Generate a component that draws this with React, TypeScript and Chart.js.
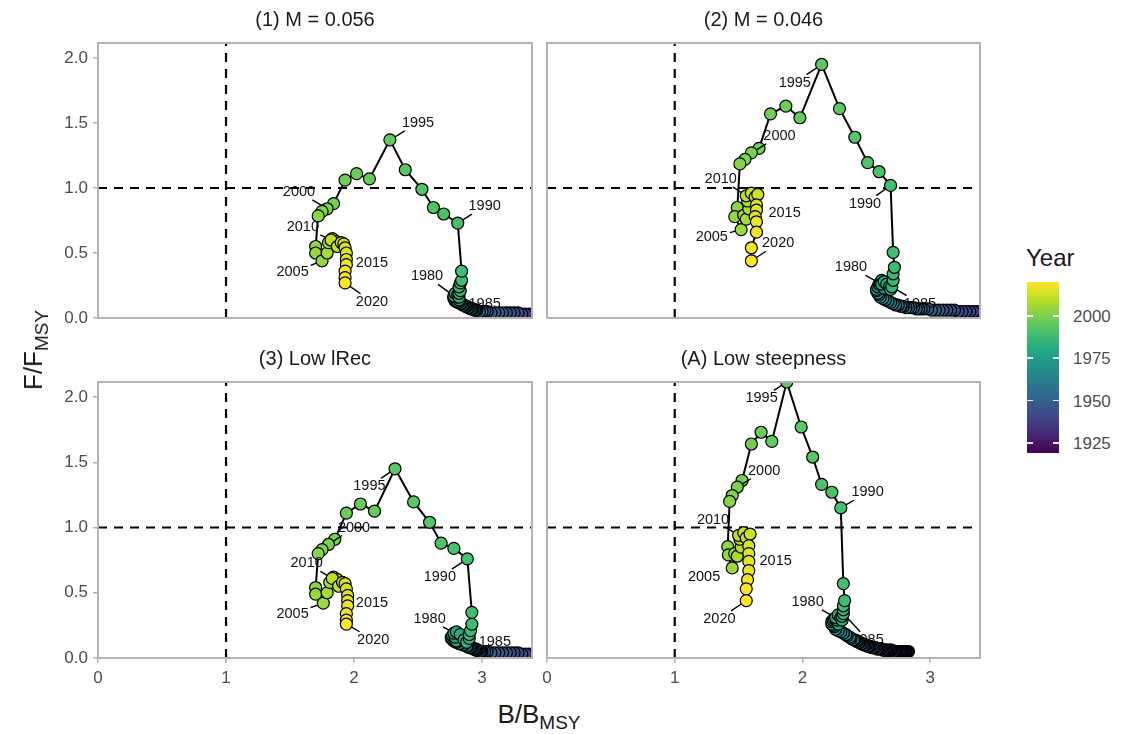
import React, { useEffect, useRef } from 'react';
import { Chart, registerables } from 'chart.js';

Chart.register(...registerables);

const FONT = '"Liberation Sans", Arial, Helvetica, sans-serif';

// ---- data ----
const YEAR_FIRST = 1919;
const YEAR_LAST = 2020;
const LEGEND_TICKS = [1925, 1950, 1975, 2000];
const LABEL_YEARS = [1980, 1985, 1990, 1995, 2000, 2005, 2010, 2015, 2020];
const PANEL_TITLES = ['(1) M = 0.056', '(2) M = 0.046', '(3) Low lRec', '(A) Low steepness'];
const X_MAX = 3.39;
const Y_MAX = 2.115;
const REF_B = 1;
const REF_F = 1;

// (1) M = 0.056
const P1_B = [
  3.80, 3.78, 3.76, 3.74, 3.72, 3.70, 3.67, 3.65, 3.62, 3.60,
  3.58, 3.56, 3.54, 3.52, 3.50, 3.48, 3.46, 3.44, 3.42, 3.40,
  3.37, 3.34, 3.31, 3.28, 3.25, 3.22, 3.19, 3.16, 3.13, 3.10,
  3.07, 3.04, 3.02, 3.00, 2.98, 2.96, 2.95, 2.94, 2.93, 2.92,
  2.91, 2.90, 2.89, 2.88, 2.87, 2.86, 2.85, 2.84, 2.83, 2.82,
  2.81, 2.80, 2.79, 2.79, 2.78, 2.78, 2.79, 2.80, 2.81, 2.82,
  2.80, 2.78, 2.79, 2.81, 2.82, 2.82, 2.83, 2.82, 2.83, 2.84,
  2.84, 2.81, 2.70, 2.62, 2.53, 2.40, 2.28, 2.12, 2.02, 1.93,
  1.84, 1.79, 1.75, 1.72, 1.70, 1.70, 1.75, 1.79, 1.80, 1.83,
  1.86, 1.82, 1.87, 1.90, 1.92, 1.93, 1.94, 1.94, 1.94, 1.93,
  1.93, 1.93,
];
const P1_F = [
  0.01, 0.01, 0.01, 0.02, 0.02, 0.02, 0.02, 0.02, 0.02, 0.02,
  0.03, 0.03, 0.03, 0.03, 0.03, 0.03, 0.03, 0.03, 0.03, 0.03,
  0.03, 0.03, 0.03, 0.04, 0.04, 0.04, 0.04, 0.04, 0.04, 0.04,
  0.04, 0.05, 0.05, 0.05, 0.05, 0.06, 0.06, 0.06, 0.07, 0.07,
  0.07, 0.08, 0.08, 0.09, 0.09, 0.10, 0.10, 0.11, 0.11, 0.12,
  0.12, 0.13, 0.13, 0.14, 0.15, 0.16, 0.17, 0.15, 0.13, 0.14,
  0.16, 0.17, 0.19, 0.18, 0.16, 0.19, 0.21, 0.24, 0.27, 0.29,
  0.36, 0.73, 0.80, 0.85, 0.99, 1.14, 1.37, 1.07, 1.11, 1.06,
  0.88, 0.84, 0.82, 0.785, 0.55, 0.50, 0.44, 0.50, 0.58, 0.61,
  0.59, 0.60, 0.55, 0.58, 0.57, 0.54, 0.50, 0.45, 0.41, 0.36,
  0.31, 0.27,
];
const P1_LAB_B = [2.57, 3.02, 3.02, 2.50, 1.57, 1.52, 1.60, 2.14, 2.14];
const P1_LAB_F = [0.32, 0.11, 0.86, 1.50, 0.97, 0.35, 0.70, 0.42, 0.125];

// (2) M = 0.046
const P2_B = [
  3.75, 3.73, 3.71, 3.69, 3.67, 3.65, 3.62, 3.60, 3.58, 3.56,
  3.54, 3.52, 3.50, 3.48, 3.46, 3.44, 3.42, 3.40, 3.37, 3.34,
  3.31, 3.28, 3.25, 3.22, 3.19, 3.16, 3.13, 3.10, 3.07, 3.04,
  3.01, 2.98, 2.95, 2.93, 2.91, 2.89, 2.87, 2.85, 2.83, 2.81,
  2.79, 2.77, 2.75, 2.73, 2.71, 2.69, 2.67, 2.65, 2.63, 2.61,
  2.60, 2.59, 2.58, 2.58, 2.59, 2.60, 2.61, 2.62, 2.63, 2.65,
  2.64, 2.62, 2.64, 2.66, 2.68, 2.69, 2.70, 2.71, 2.71, 2.72,
  2.71, 2.69, 2.60, 2.51, 2.41, 2.29, 2.15, 1.98, 1.87, 1.75,
  1.66, 1.60, 1.55, 1.51, 1.49, 1.47, 1.52, 1.54, 1.56, 1.58,
  1.57, 1.56, 1.60, 1.63, 1.65, 1.64, 1.64, 1.63, 1.64, 1.64,
  1.60, 1.60,
];
const P2_F = [
  0.03, 0.03, 0.03, 0.03, 0.04, 0.04, 0.04, 0.04, 0.04, 0.04,
  0.04, 0.04, 0.04, 0.04, 0.05, 0.05, 0.05, 0.05, 0.05, 0.05,
  0.05, 0.05, 0.05, 0.05, 0.06, 0.06, 0.06, 0.06, 0.06, 0.06,
  0.06, 0.07, 0.07, 0.07, 0.07, 0.07, 0.08, 0.08, 0.08, 0.08,
  0.09, 0.09, 0.10, 0.10, 0.11, 0.12, 0.13, 0.14, 0.15, 0.16,
  0.18, 0.19, 0.21, 0.22, 0.24, 0.26, 0.27, 0.29, 0.27, 0.25,
  0.23, 0.26, 0.28, 0.26, 0.24, 0.22, 0.24, 0.29, 0.34, 0.39,
  0.505, 1.02, 1.125, 1.195, 1.39, 1.61, 1.95, 1.54, 1.63, 1.57,
  1.305, 1.27, 1.22, 1.185, 0.85, 0.78, 0.68, 0.79, 0.76, 0.84,
  0.90, 0.94, 0.96, 0.93, 0.95, 0.87, 0.83, 0.78, 0.74, 0.66,
  0.54, 0.44,
];
const P2_LAB_B = [2.38, 2.92, 2.49, 1.94, 1.82, 1.29, 1.36, 1.86, 1.81];
const P2_LAB_F = [0.39, 0.11, 0.88, 1.81, 1.40, 0.62, 1.07, 0.805, 0.575];

// (3) Low lRec
const P3_B = [
  3.80, 3.78, 3.76, 3.74, 3.72, 3.70, 3.67, 3.65, 3.62, 3.60,
  3.58, 3.56, 3.54, 3.52, 3.50, 3.48, 3.46, 3.44, 3.42, 3.40,
  3.37, 3.34, 3.31, 3.28, 3.25, 3.22, 3.19, 3.16, 3.13, 3.10,
  3.07, 3.04, 3.02, 3.00, 2.99, 2.98, 2.97, 2.96, 2.95, 2.95,
  2.94, 2.93, 2.92, 2.91, 2.90, 2.89, 2.88, 2.86, 2.85, 2.83,
  2.82, 2.80, 2.79, 2.78, 2.77, 2.76, 2.76, 2.77, 2.79, 2.80,
  2.79, 2.78, 2.80, 2.83, 2.86, 2.88, 2.90, 2.90, 2.91, 2.92,
  2.92, 2.885, 2.78, 2.68, 2.59, 2.465, 2.32, 2.16, 2.05, 1.94,
  1.85, 1.80, 1.75, 1.72, 1.70, 1.70, 1.76, 1.79, 1.81, 1.84,
  1.87, 1.83, 1.88, 1.91, 1.93, 1.94, 1.95, 1.95, 1.95, 1.94,
  1.94, 1.94,
];
const P3_F = [
  0.01, 0.01, 0.02, 0.02, 0.02, 0.02, 0.02, 0.02, 0.02, 0.02,
  0.03, 0.03, 0.03, 0.03, 0.03, 0.03, 0.03, 0.03, 0.03, 0.03,
  0.03, 0.03, 0.03, 0.04, 0.04, 0.04, 0.04, 0.04, 0.04, 0.04,
  0.04, 0.05, 0.05, 0.05, 0.05, 0.05, 0.06, 0.06, 0.06, 0.07,
  0.07, 0.07, 0.08, 0.08, 0.08, 0.09, 0.09, 0.10, 0.10, 0.11,
  0.11, 0.12, 0.13, 0.13, 0.14, 0.15, 0.16, 0.17, 0.15, 0.13,
  0.16, 0.19, 0.20, 0.18, 0.14, 0.12, 0.15, 0.18, 0.21, 0.26,
  0.35, 0.76, 0.84, 0.88, 1.04, 1.196, 1.45, 1.125, 1.18, 1.11,
  0.91, 0.87, 0.83, 0.80, 0.54, 0.49, 0.42, 0.50, 0.58, 0.62,
  0.60, 0.61, 0.55, 0.58, 0.57, 0.53, 0.48, 0.44, 0.40, 0.34,
  0.29, 0.26,
];
const P3_LAB_B = [2.59, 3.10, 2.67, 2.12, 2.00, 1.52, 1.63, 2.14, 2.15];
const P3_LAB_F = [0.30, 0.12, 0.62, 1.315, 1.00, 0.34, 0.725, 0.42, 0.14];

// (A) Low steepness
const P4_B = [
  2.83, 2.82, 2.81, 2.80, 2.79, 2.78, 2.77, 2.76, 2.75, 2.74,
  2.73, 2.72, 2.71, 2.70, 2.69, 2.68, 2.67, 2.66, 2.65, 2.64,
  2.63, 2.62, 2.61, 2.60, 2.59, 2.58, 2.57, 2.56, 2.55, 2.54,
  2.53, 2.52, 2.51, 2.50, 2.49, 2.48, 2.47, 2.46, 2.45, 2.44,
  2.43, 2.42, 2.41, 2.40, 2.38, 2.37, 2.35, 2.34, 2.32, 2.30,
  2.28, 2.26, 2.25, 2.24, 2.23, 2.23, 2.24, 2.25, 2.27, 2.28,
  2.27, 2.26, 2.28, 2.30, 2.31, 2.31, 2.32, 2.32, 2.32, 2.33,
  2.32, 2.30, 2.23, 2.15, 2.08, 1.99, 1.877, 1.76, 1.676, 1.60,
  1.527, 1.49, 1.45, 1.43, 1.415, 1.42, 1.45, 1.47, 1.49, 1.52,
  1.51, 1.50, 1.54, 1.56, 1.59, 1.58, 1.58, 1.58, 1.58, 1.57,
  1.56, 1.56,
];
const P4_F = [
  0.05, 0.05, 0.05, 0.05, 0.05, 0.05, 0.05, 0.05, 0.05, 0.05,
  0.05, 0.05, 0.05, 0.06, 0.06, 0.06, 0.06, 0.06, 0.06, 0.06,
  0.06, 0.07, 0.07, 0.07, 0.07, 0.07, 0.08, 0.08, 0.08, 0.08,
  0.09, 0.09, 0.09, 0.10, 0.10, 0.10, 0.11, 0.11, 0.12, 0.12,
  0.13, 0.13, 0.14, 0.14, 0.15, 0.16, 0.17, 0.18, 0.19, 0.20,
  0.21, 0.22, 0.24, 0.25, 0.26, 0.28, 0.29, 0.30, 0.28, 0.26,
  0.29, 0.31, 0.33, 0.31, 0.29, 0.32, 0.34, 0.37, 0.40, 0.44,
  0.57, 1.15, 1.27, 1.33, 1.54, 1.77, 2.115, 1.66, 1.73, 1.64,
  1.36, 1.31, 1.245, 1.20, 0.854, 0.79, 0.69, 0.80, 0.78, 0.85,
  0.91, 0.94, 0.96, 0.92, 0.95, 0.86, 0.80, 0.74, 0.67, 0.60,
  0.53, 0.44,
];
const P4_LAB_B = [2.04, 2.51, 2.51, 1.68, 1.70, 1.23, 1.30, 1.79, 1.35];
const P4_LAB_F = [0.43, 0.14, 1.27, 1.99, 1.435, 0.62, 1.06, 0.74, 0.30];

// ---- styling ----
const VIRIDIS = ['#440154', '#482475', '#414487', '#355F8D', '#2A788E', '#21918C', '#22A884', '#44BF70', '#7AD151', '#BDDF26', '#FDE725'];

function hexToRgb(h: string) {
  const n = parseInt(h.slice(1), 16);
  return [(n >> 16) & 255, (n >> 8) & 255, n & 255];
}
function viridis(t: number) {
  const c = Math.max(0, Math.min(1, t)) * (VIRIDIS.length - 1);
  const i = Math.min(Math.floor(c), VIRIDIS.length - 2);
  const f = c - i;
  const a = hexToRgb(VIRIDIS[i]);
  const b = hexToRgb(VIRIDIS[i + 1]);
  const m = a.map((v, k) => Math.round(v + (b[k] - v) * f));
  return `rgb(${m[0]},${m[1]},${m[2]})`;
}

type Area = { l: number; t: number; r: number; b: number };
const PAD_L = 70, PAD_T = 30, PAD_R = 10, PAD_B = 40;

const PANELS = [
  { area: { l: 98, t: 43, r: 532, b: 318 }, B: P1_B, F: P1_F, LB: P1_LAB_B, LF: P1_LAB_F, showX: false, showY: true },
  { area: { l: 547, t: 43, r: 980, b: 318 }, B: P2_B, F: P2_F, LB: P2_LAB_B, LF: P2_LAB_F, showX: false, showY: false },
  { area: { l: 98, t: 382, r: 532, b: 658 }, B: P3_B, F: P3_F, LB: P3_LAB_B, LF: P3_LAB_F, showX: true, showY: true },
  { area: { l: 547, t: 382, r: 980, b: 658 }, B: P4_B, F: P4_F, LB: P4_LAB_B, LF: P4_LAB_F, showX: true, showY: false },
];

function Panel(props: { area: Area; B: number[]; F: number[]; LB: number[]; LF: number[]; showX: boolean; showY: boolean }) {
  const { area, B, F, LB, LF, showX, showY } = props;
  const ref = useRef<HTMLCanvasElement>(null);
  const w = area.r - area.l + PAD_L + PAD_R;
  const h = area.b - area.t + PAD_T + PAD_B;

  useEffect(() => {
    const cv = ref.current;
    if (!cv) return;
    const pts = B.map((b, i) => ({ x: b, y: F[i] }));
    const colors = B.map((_, i) => viridis(i / (YEAR_LAST - YEAR_FIRST)));

    const overlay = {
      id: 'overlay',
      afterDatasetsDraw(chart: any) {
        const { ctx, chartArea: a, scales } = chart;
        const xs = scales.x, ys = scales.y;
        ctx.save();
        ctx.beginPath();
        ctx.rect(a.left, a.top, a.right - a.left, a.bottom - a.top);
        ctx.clip();
        ctx.font = `14.5px ${FONT}`;
        ctx.textAlign = 'center';
        ctx.textBaseline = 'middle';
        ctx.strokeStyle = '#000';
        ctx.lineWidth = 1.4;
        ctx.fillStyle = '#111';
        LABEL_YEARS.forEach((yr, k) => {
          const i = yr - YEAR_FIRST;
          const px = xs.getPixelForValue(B[i]);
          const py = ys.getPixelForValue(F[i]);
          const lx = xs.getPixelForValue(LB[k]);
          const ly = ys.getPixelForValue(LF[k]);
          const txt = String(yr);
          const tw = ctx.measureText(txt).width;
          const hw = tw / 2 + 2, hh = 8;
          const dx = px - lx, dy = py - ly;
          const dist = Math.hypot(dx, dy);
          const s = Math.min(dx !== 0 ? hw / Math.abs(dx) : Infinity, dy !== 0 ? hh / Math.abs(dy) : Infinity);
          if (s < 1 && dist > 0) {
            const ex = lx + dx * s, ey = ly + dy * s;
            const rem = dist * (1 - s);
            const r = 6;
            if (rem > r + 5) {
              const sx = px - (dx / dist) * r, sy = py - (dy / dist) * r;
              ctx.beginPath();
              ctx.moveTo(ex, ey);
              ctx.lineTo(sx, sy);
              ctx.stroke();
            }
          }
          ctx.fillText(txt, lx, ly);
        });
        ctx.restore();
      },
      afterDraw(chart: any) {
        const { ctx, chartArea: a } = chart;
        ctx.save();
        ctx.strokeStyle = '#B3B3B3';
        ctx.lineWidth = 2;
        ctx.strokeRect(a.left, a.top, a.right - a.left, a.bottom - a.top);
        ctx.restore();
      },
    };

    const chart = new Chart(cv, {
      type: 'scatter',
      data: {
        datasets: [
          {
            data: pts,
            showLine: true,
            borderColor: '#000',
            borderWidth: 2,
            pointRadius: 6,
            pointBorderWidth: 1.2,
            pointBorderColor: '#000',
            pointBackgroundColor: colors,
            clip: 0,
            order: 0,
          } as any,
          {
            data: [{ x: REF_B, y: 0 }, { x: REF_B, y: Y_MAX }],
            showLine: true,
            borderColor: '#000',
            borderWidth: 2.2,
            borderDash: [9, 7],
            pointRadius: 0,
            clip: 0,
            order: 1,
          } as any,
          {
            data: [{ x: 0, y: REF_F }, { x: X_MAX, y: REF_F }],
            showLine: true,
            borderColor: '#000',
            borderWidth: 2.2,
            borderDash: [9, 7],
            pointRadius: 0,
            clip: 0,
            order: 2,
          } as any,
        ],
      },
      options: {
        responsive: false,
        animation: false,
        events: [],
        devicePixelRatio: 1,
        layout: { padding: { left: 0, top: PAD_T, right: PAD_R, bottom: 0 } },
        plugins: { legend: { display: false }, tooltip: { enabled: false }, title: { display: false } },
        scales: {
          x: {
            type: 'linear',
            min: 0,
            max: X_MAX,
            afterFit: (s: any) => { s.height = PAD_B; },
            border: { display: false },
            grid: { display: showX, drawOnChartArea: false, drawTicks: true, tickLength: 5, color: '#B3B3B3', lineWidth: 1.5 },
            ticks: { display: showX, stepSize: 1, includeBounds: false, color: '#4D4D4D', font: { family: FONT, size: 17 }, padding: 5, maxRotation: 0 },
          },
          y: {
            type: 'linear',
            min: 0,
            max: Y_MAX,
            afterFit: (s: any) => { s.width = PAD_L; },
            border: { display: false },
            grid: { display: showY, drawOnChartArea: false, drawTicks: true, tickLength: 5, color: '#B3B3B3', lineWidth: 1.5 },
            ticks: {
              display: showY,
              stepSize: 0.5,
              includeBounds: false,
              color: '#4D4D4D',
              font: { family: FONT, size: 17 },
              padding: 5,
              callback: (v: any) => Number(v).toFixed(1),
            },
          },
        },
      } as any,
      plugins: [overlay],
    });
    return () => chart.destroy();
  }, []);

  return (
    <canvas
      ref={ref}
      width={w}
      height={h}
      style={{ position: 'absolute', left: area.l - PAD_L, top: area.t - PAD_T, width: w, height: h }}
    />
  );
}

export default function App() {
  const barTop = 282, barH = 171, barLeft = 1027, barW = 32;
  const yearY = (yr: number) => barTop + barH - ((yr - YEAR_FIRST) / (YEAR_LAST - YEAR_FIRST)) * barH;
  return (
    <div style={{ position: 'absolute', left: 0, top: 0, width: 1123, height: 734, background: '#fff', fontFamily: FONT, overflow: 'hidden' }}>
      {PANELS.map((p, i) => (
        <Panel key={i} {...p} />
      ))}
      {PANELS.map((p, i) => (
        <div
          key={'t' + i}
          style={{
            position: 'absolute',
            left: (p.area.l + p.area.r) / 2,
            top: p.area.t - 24,
            transform: 'translate(-50%, -50%)',
            fontSize: 20,
            lineHeight: 1,
            color: '#1A1A1A',
            whiteSpace: 'nowrap',
          }}
        >
          {PANEL_TITLES[i]}
        </div>
      ))}
      <div style={{ position: 'absolute', left: 539, top: 714, transform: 'translate(-50%, -50%)', fontSize: 26, lineHeight: 1, color: '#1A1A1A', whiteSpace: 'nowrap' }}>
        B/B<span style={{ fontSize: 19, position: 'relative', top: 6 }}>MSY</span>
      </div>
      <div style={{ position: 'absolute', left: 33, top: 350, transform: 'translate(-50%, -50%) rotate(-90deg)', fontSize: 26, lineHeight: 1, color: '#1A1A1A', whiteSpace: 'nowrap' }}>
        F/F<span style={{ fontSize: 19, position: 'relative', top: 6 }}>MSY</span>
      </div>
      <div style={{ position: 'absolute', left: barLeft - 1, top: 258, transform: 'translate(0, -50%)', fontSize: 24, lineHeight: 1, color: '#1A1A1A' }}>Year</div>
      <div style={{ position: 'absolute', left: barLeft, top: barTop, width: barW, height: barH, background: `linear-gradient(to top, ${VIRIDIS.join(', ')})` }} />
      {LEGEND_TICKS.map((yr) => (
        <React.Fragment key={yr}>
          <div style={{ position: 'absolute', left: barLeft, top: yearY(yr) - 0.75, width: 6, height: 1.5, background: 'rgba(255,255,255,0.9)' }} />
          <div style={{ position: 'absolute', left: barLeft + barW - 6, top: yearY(yr) - 0.75, width: 6, height: 1.5, background: 'rgba(255,255,255,0.9)' }} />
          <div style={{ position: 'absolute', left: barLeft + 46, top: yearY(yr), transform: 'translate(0, -50%)', fontSize: 17, lineHeight: 1, color: '#4D4D4D' }}>{yr}</div>
        </React.Fragment>
      ))}
    </div>
  );
}
